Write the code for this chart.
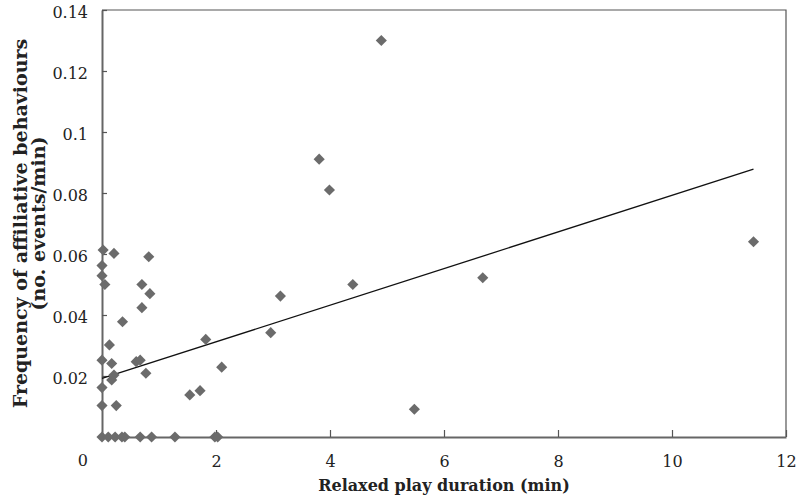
<!DOCTYPE html>
<html>
<head>
<meta charset="utf-8">
<script src="https://cdn.jsdelivr.net/npm/d3@7"></script>
<style>
  body { margin: 0; background: #fff; }
  text { font-family: 'DejaVu Serif', serif; fill: #222; }
</style>
</head>
<body>
<div id="chart"></div>
<script>
// relaxed play duration (min)
const playDuration = [
  0.02, 0.21, 0.82, 0, 0, 0.05, 0.70, 0.84, 0.70,
  0.36, 0.13, 0, 0.17, 0.60, 0.67, 0.77, 0.21, 0.17, 0, 0, 0.25,
  0, 0.11, 0.23, 0.35, 0.40, 0.67, 0.87, 1.28, 1.98, 2.03,
  1.82, 2.96, 2.10, 1.54, 1.72, 3.81, 3.99, 4.40, 3.13,
  6.68, 5.48, 4.90, 11.43
]

// frequency of affiliative behaviours (events/min)
const affiliativeFreq = [
  0.0613, 0.0602, 0.0591, 0.0562, 0.0529, 0.050, 0.050, 0.047, 0.0424,
  0.0378, 0.0302, 0.0252, 0.0241, 0.0247, 0.0252, 0.0209, 0.0203, 0.0187, 0.0162, 0.0103, 0.0103,
  0, 0, 0, 0, 0, 0, 0, 0, 0, 0,
  0.032, 0.0342, 0.0229, 0.0138, 0.0152, 0.0911, 0.081, 0.050, 0.0462,
  0.0522, 0.0091, 0.130, 0.064
]

// fitted trend line, from x = 0 to the largest duration
const trendX = [0, 11.43]
const trendY = [0.0192, 0.0878]

const xTicks = [2, 4, 6, 8, 10, 12]
const yTicks = [0.02, 0.04, 0.06, 0.08, 0.1, 0.12, 0.14]
const yTickLabels = ['0.02', '0.04', '0.06', '0.08', '0.1', '0.12', '0.14']

const width = 797
const height = 496
const margin = { top: 10, left: 102, right: 11, bottom: 59 }

const svg = d3
  .select('#chart')
  .append('svg')
  .attr('width', width)
  .attr('height', height)

const xPositionScale = d3
  .scaleLinear()
  .domain([0, 12])
  .range([margin.left, width - margin.right])

const yPositionScale = d3
  .scaleLinear()
  .domain([0, 0.14])
  .range([height - margin.bottom, margin.top])

// frame on top and right
svg
  .append('path')
  .attr('d', 'M' + xPositionScale(0) + ',' + yPositionScale(0.14) +
    'H' + xPositionScale(12) + 'V' + yPositionScale(0))
  .attr('fill', 'none')
  .attr('stroke', '#555')
  .attr('stroke-width', 1.2)

// x axis, ticks pointing up
const xAxis = d3
  .axisBottom(xPositionScale)
  .tickValues(xTicks)
  .tickSizeInner(-7)
  .tickSizeOuter(0)
  .tickPadding(19)
svg
  .append('g')
  .attr('class', 'axis x-axis')
  .attr('transform', 'translate(0,' + yPositionScale(0) + ')')
  .call(xAxis)

// y axis, ticks pointing right
const yAxis = d3
  .axisLeft(yPositionScale)
  .tickValues(yTicks)
  .tickFormat((d, i) => yTickLabels[i])
  .tickSizeInner(-5)
  .tickSizeOuter(0)
  .tickPadding(14)
svg
  .append('g')
  .attr('class', 'axis y-axis')
  .attr('transform', 'translate(' + xPositionScale(0) + ',0)')
  .call(yAxis)

svg.selectAll('.axis .domain').attr('stroke', '#666').attr('stroke-width', 2)
svg.selectAll('.axis .tick line').attr('stroke', '#555').attr('stroke-width', 1.2)
svg
  .selectAll('.axis text')
  .attr('font-family', "'DejaVu Serif', serif")
  .attr('font-size', 16)
  .attr('fill', '#222')
svg.selectAll('.y-axis text').attr('dy', '0.45em')

// shared origin label sits below-left of the corner
svg
  .append('text')
  .text('0')
  .attr('x', xPositionScale(0) - 14)
  .attr('y', yPositionScale(0) + 29)
  .attr('text-anchor', 'end')
  .attr('font-size', 16)

// trend line
const trendLine = d3
  .line()
  .x(d => xPositionScale(d[0]))
  .y(d => yPositionScale(d[1]))

svg
  .append('path')
  .datum(d3.zip(trendX, trendY))
  .attr('d', trendLine)
  .attr('fill', 'none')
  .attr('stroke', '#111')
  .attr('stroke-width', 1.3)

// diamonds
const diamond = d3.symbol().type(d3.symbolSquare).size(62)

svg
  .append('g')
  .selectAll('path')
  .data(d3.zip(playDuration, affiliativeFreq))
  .enter()
  .append('path')
  .attr('d', diamond)
  .attr('transform', d =>
    'translate(' + xPositionScale(d[0]) + ',' + yPositionScale(d[1]) + ') rotate(45)')
  .attr('fill', '#6b6b6b')

// axis titles
svg
  .append('text')
  .text('Relaxed play duration (min)')
  .attr('x', (xPositionScale(0) + xPositionScale(12)) / 2)
  .attr('y', 491)
  .attr('text-anchor', 'middle')
  .attr('font-size', 16)
  .attr('font-weight', 'bold')

const yMid = (yPositionScale(0) + yPositionScale(0.14)) / 2

svg
  .append('text')
  .text('Frequency of affiliative behaviours')
  .attr('transform', 'translate(27,' + yMid + ') rotate(-90)')
  .attr('text-anchor', 'middle')
  .attr('font-size', 19)
  .attr('font-weight', 'bold')

svg
  .append('text')
  .text('(no. events/min)')
  .attr('transform', 'translate(45,' + yMid + ') rotate(-90)')
  .attr('text-anchor', 'middle')
  .attr('font-size', 19)
  .attr('font-weight', 'bold')
</script>
</body>
</html>
